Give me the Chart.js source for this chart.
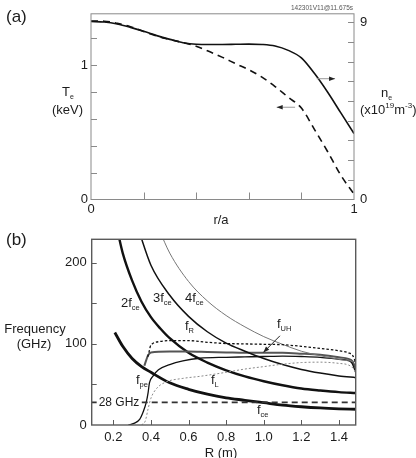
<!DOCTYPE html>
<html>
<head>
<meta charset="utf-8">
<script src="https://cdn.jsdelivr.net/npm/chart.js@4.4.1/dist/chart.umd.min.js"></script>
<style>
html, body { margin: 0; padding: 0; background: #fff; }
#wrap { position: relative; width: 416px; height: 458px; }
canvas { position: absolute; left: 0; top: 0; }
</style>
</head>
<body>
<div id="wrap">
  <canvas id="chartA" width="416" height="458"></canvas>
  <canvas id="chartB" width="416" height="458"></canvas>
</div>
<script>
// ---- panel (a): profiles vs r/a ----
const rA  = [0, 0.05, 0.1, 0.15, 0.2, 0.25, 0.3, 0.35, 0.4, 0.45, 0.5, 0.55, 0.6, 0.65, 0.7, 0.75, 0.8, 0.85, 0.9, 0.95, 1.0];
const teA = [1.328, 1.326, 1.31, 1.285, 1.25, 1.215, 1.19, 1.167, 1.14, 1.1, 1.057, 1.01, 0.965, 0.91, 0.84, 0.76, 0.68, 0.52, 0.355, 0.18, 0.04];
const neA = [9.05, 9.02, 8.92, 8.75, 8.55, 8.33, 8.14, 7.97, 7.89, 7.88, 7.88, 7.89, 7.9, 7.88, 7.8, 7.58, 7.2, 6.4, 5.45, 4.4, 3.35];

// ---- panel (b): characteristic frequencies vs R ----
const fceR  = [0.208, 0.25, 0.3, 0.35, 0.4, 0.5, 0.6, 0.7, 0.8, 0.9, 1.0, 1.1, 1.2, 1.3, 1.4, 1.49];
const fceF  = [114, 97, 82, 72, 65, 52, 44, 38, 33.5, 30.5, 27.5, 24.5, 22.5, 21, 20, 19.4];
const f2R   = [0.222, 0.25, 0.3, 0.35, 0.4, 0.45, 0.5, 0.6, 0.7, 0.8, 0.9, 1.0, 1.1, 1.2, 1.3, 1.4, 1.49];
const f2F   = [240, 212, 178, 152, 133, 119, 107, 89, 77, 67.5, 60, 54, 49, 45, 42.5, 40.5, 39.5];
const f3R   = [0.335, 0.4, 0.5, 0.6, 0.7, 0.8, 0.9, 1.0, 1.1, 1.2, 1.3, 1.4, 1.49];
const f3F   = [240, 197, 160, 134, 115, 101, 91, 82, 74.5, 68.5, 64, 60.5, 58.4];
const f4R   = [0.445, 0.5, 0.6, 0.7, 0.8, 0.9, 1.0, 1.1, 1.2, 1.3, 1.4, 1.49];
const f4F   = [240, 212, 177, 153, 135, 121, 109, 99.5, 91, 85.5, 81, 78];
const fRR   = [0.383, 0.39, 0.397, 0.41, 0.45, 0.5, 0.6, 0.7, 0.8, 0.9, 1.0, 1.1, 1.2, 1.3, 1.4, 1.45, 1.475, 1.49];
const fRF   = [84, 90, 97, 100.5, 103, 104, 104, 102, 100.5, 100, 99.5, 99, 97, 94.5, 91.5, 89, 85, 76];
const fuhR  = [0.365, 0.375, 0.385, 0.4, 0.5, 0.6, 0.7, 0.8, 0.9, 1.0, 1.1, 1.2, 1.3, 1.4, 1.45, 1.47, 1.49];
const fuhF  = [73, 80, 86, 89.5, 90.5, 90.5, 90, 89.5, 89, 89, 89, 88, 86.5, 83.5, 81.5, 79, 70];
const fpeR  = [0.28, 0.31, 0.34, 0.36, 0.375, 0.385, 0.392, 0.41, 0.44, 0.5, 0.57, 0.66, 0.8, 0.9, 1.0, 1.1, 1.2, 1.3, 1.4, 1.45, 1.47, 1.49];
const fpeF  = [0, 2, 7, 17, 28, 40, 52, 60, 68, 74.5, 79, 82.3, 83.5, 84, 84.5, 85, 84.5, 83.5, 81, 79.5, 76, 64];
const fLR   = [0.35, 0.37, 0.385, 0.4, 0.43, 0.48, 0.57, 0.66, 0.8, 0.9, 1.0, 1.1, 1.2, 1.3, 1.4, 1.45, 1.475, 1.49];
const fLF   = [0, 5, 20, 33, 45, 53, 57.5, 60, 65, 69, 72, 75, 77, 77.5, 76, 74, 70, 64];
const ecrhR = [0.085, 1.489];
const ecrhF = [28, 28];

const FONT = '"Liberation Sans", Arial, Helvetica, sans-serif';
const INK = '#1c1c1c';
Chart.defaults.font.family = FONT;
Chart.defaults.color = INK;

function pts(xs, ys) { return xs.map((x, i) => ({ x: x, y: ys[i] })); }
function fixSize(px) {
  return function (scale) {
    if (scale.isHorizontal()) scale.height = px; else scale.width = px;
  };
}
function near(v, t) { return Math.abs(v - t) < 1e-6; }

// text made of runs (sub/superscripts)
function runs(ctx, x, y, parts, align) {
  ctx.textBaseline = 'middle';
  ctx.textAlign = 'left';
  let w = 0;
  parts.forEach(p => { ctx.font = p.s + 'px ' + FONT; w += ctx.measureText(p.t).width; });
  if (align === 'center') x -= w / 2;
  if (align === 'right') x -= w;
  parts.forEach(p => {
    ctx.font = p.s + 'px ' + FONT;
    ctx.fillText(p.t, x, y + (p.dy || 0));
    x += ctx.measureText(p.t).width;
  });
}
function arrow(ctx, x1, y1, x2, y2, lineCol, headCol) {
  ctx.save();
  ctx.strokeStyle = lineCol;
  ctx.lineWidth = 1;
  ctx.beginPath(); ctx.moveTo(x1, y1); ctx.lineTo(x2, y2); ctx.stroke();
  const a = Math.atan2(y2 - y1, x2 - x1), L = 6, W = 2.3;
  ctx.fillStyle = headCol;
  ctx.beginPath();
  ctx.moveTo(x2, y2);
  ctx.lineTo(x2 - L * Math.cos(a) + W * Math.sin(a), y2 - L * Math.sin(a) - W * Math.cos(a));
  ctx.lineTo(x2 - L * Math.cos(a) - W * Math.sin(a), y2 - L * Math.sin(a) + W * Math.cos(a));
  ctx.closePath(); ctx.fill();
  ctx.restore();
}
// inward tick marks, drawn from the library's scales
function inTicks(chart, scaleId, values, side, len, col) {
  const ctx = chart.ctx, a = chart.chartArea, sc = chart.scales[scaleId];
  ctx.save();
  ctx.strokeStyle = col; ctx.lineWidth = 1;
  ctx.beginPath();
  values.forEach(v => {
    const p = Math.round(sc.getPixelForValue(v)) + 0.5;
    if (side === 'bottom') { ctx.moveTo(p, a.bottom); ctx.lineTo(p, a.bottom - len); }
    if (side === 'left')   { ctx.moveTo(a.left, p); ctx.lineTo(a.left + len, p); }
    if (side === 'right')  { ctx.moveTo(a.right, p); ctx.lineTo(a.right - len, p); }
  });
  ctx.stroke();
  ctx.restore();
}
function frame(chart, col, w) {
  const ctx = chart.ctx, a = chart.chartArea;
  ctx.save();
  ctx.strokeStyle = col; ctx.lineWidth = w;
  ctx.strokeRect(a.left, a.top, a.right - a.left, a.bottom - a.top);
  ctx.restore();
}

const noGrid = { display: false, drawTicks: false };

// ---------------- chart (a) ----------------
const decoA = {
  id: 'decoA',
  afterDraw(chart) {
    const ctx = chart.ctx;
    frame(chart, '#8a8a8a', 1);
    inTicks(chart, 'x', [0.2, 0.4, 0.6, 0.8], 'bottom', 7, '#8a8a8a');
    inTicks(chart, 'yt', [0.2, 0.4, 0.6, 0.8, 1.0, 1.2], 'left', 6, '#8a8a8a');
    inTicks(chart, 'yn', [1, 2, 3, 4, 5, 6, 7, 8, 9], 'right', 6, '#8a8a8a');
    ctx.fillStyle = INK;
    runs(ctx, 6, 17, [{ t: '(a)', s: 17 }]);
    runs(ctx, 62, 92, [{ t: 'T', s: 13 }, { t: 'e', s: 7, dy: 5 }]);
    runs(ctx, 67.5, 110, [{ t: '(keV)', s: 13 }], 'center');
    runs(ctx, 381, 93, [{ t: 'n', s: 13 }, { t: 'e', s: 7, dy: 5 }]);
    runs(ctx, 360, 110, [{ t: '(x10', s: 13 }, { t: '19', s: 8, dy: -4 }, { t: 'm', s: 13 }, { t: '-3', s: 8, dy: -4 }, { t: ')', s: 13 }]);
    runs(ctx, 221, 220, [{ t: 'r/a', s: 13 }], 'center');
    ctx.fillStyle = '#555';
    runs(ctx, 353, 8, [{ t: '142301V11@11.675s', s: 6.5 }], 'right');
    const x = chart.scales.x, yn = chart.scales.yn;
    arrow(ctx, x.getPixelForValue(0.858), yn.getPixelForValue(6.14), x.getPixelForValue(0.928), yn.getPixelForValue(6.14), '#999', '#222');
    arrow(ctx, x.getPixelForValue(0.776), yn.getPixelForValue(4.69), x.getPixelForValue(0.706), yn.getPixelForValue(4.69), '#999', '#222');
  }
};

new Chart(document.getElementById('chartA'), {
  type: 'line',
  data: {
    datasets: [
      { label: 'ne', data: pts(rA, neA), yAxisID: 'yn', borderColor: '#111', borderWidth: 1.6, pointRadius: 0, cubicInterpolationMode: 'monotone' },
      { label: 'Te', data: pts(rA, teA), yAxisID: 'yt', borderColor: '#111', borderWidth: 1.6, borderDash: [7, 5], pointRadius: 0, cubicInterpolationMode: 'monotone' }
    ]
  },
  options: {
    responsive: false, animation: false, devicePixelRatio: 1,
    layout: { padding: { top: 13, left: 0, right: 0, bottom: 0 } },
    plugins: { legend: { display: false }, tooltip: { enabled: false } },
    scales: {
      x: {
        type: 'linear', min: 0, max: 1, afterFit: fixSize(458 - 199.5),
        grid: noGrid, border: { display: false },
        ticks: { stepSize: 0.2, includeBounds: false, autoSkip: false, maxRotation: 0, padding: 2, font: { size: 13 },
                 callback: v => (near(v, 0) ? '0' : near(v, 1) ? '1' : '') }
      },
      yt: {
        position: 'left', min: 0, max: 1.381, afterFit: fixSize(91),
        grid: noGrid, border: { display: false },
        ticks: { stepSize: 0.2, includeBounds: false, autoSkip: false, padding: 3, font: { size: 13 },
                 callback: v => (near(v, 0) ? '0' : near(v, 1) ? '1' : '') }
      },
      yn: {
        position: 'right', min: 0, max: 9.44, afterFit: fixSize(62),
        grid: noGrid, border: { display: false },
        ticks: { stepSize: 1, includeBounds: false, autoSkip: false, padding: 6, font: { size: 13 },
                 callback: v => (near(v, 0) ? '0' : near(v, 9) ? '9' : '') }
      }
    }
  },
  plugins: [decoA]
});

// ---------------- chart (b) ----------------
const decoB = {
  id: 'decoB',
  afterDraw(chart) {
    const ctx = chart.ctx;
    frame(chart, '#5a5a5a', 1.4);
    inTicks(chart, 'x', [0.2, 0.4, 0.6, 0.8, 1.0, 1.2, 1.4], 'bottom', 5, '#5a5a5a');
    inTicks(chart, 'y', [50, 100, 150, 200], 'left', 5, '#5a5a5a');
    ctx.fillStyle = INK;
    runs(ctx, 6, 240, [{ t: '(b)', s: 17 }]);
    runs(ctx, 35, 329, [{ t: 'Frequency', s: 13 }], 'center');
    runs(ctx, 34, 344, [{ t: '(GHz)', s: 13 }], 'center');
    runs(ctx, 221, 453, [{ t: 'R (m)', s: 13 }], 'center');
    runs(ctx, 121, 303, [{ t: '2f', s: 13 }, { t: 'ce', s: 7.5, dy: 5 }]);
    runs(ctx, 153, 298, [{ t: '3f', s: 13 }, { t: 'ce', s: 7.5, dy: 5 }]);
    runs(ctx, 185, 298, [{ t: '4f', s: 13 }, { t: 'ce', s: 7.5, dy: 5 }]);
    runs(ctx, 185, 326, [{ t: 'f', s: 13 }, { t: 'R', s: 7.5, dy: 5 }]);
    runs(ctx, 277, 324, [{ t: 'f', s: 13 }, { t: 'UH', s: 7.5, dy: 5 }]);
    runs(ctx, 211, 380, [{ t: 'f', s: 13 }, { t: 'L', s: 7.5, dy: 5 }]);
    runs(ctx, 257, 410, [{ t: 'f', s: 13 }, { t: 'ce', s: 7.5, dy: 5 }]);
    runs(ctx, 136, 380, [{ t: 'f', s: 13 }, { t: 'pe', s: 7.5, dy: 5 }]);
    // 28 GHz label sitting on the dashed line
    const yl = chart.scales.y.getPixelForValue(28);
    ctx.font = '12px ' + FONT;
    const w = ctx.measureText('28 GHz').width;
    ctx.fillStyle = '#fff';
    ctx.fillRect(119 - w / 2 - 2, yl - 6, w + 4, 12);
    ctx.fillStyle = INK;
    runs(ctx, 119, yl, [{ t: '28 GHz', s: 12 }], 'center');
    const x = chart.scales.x, y = chart.scales.y;
    arrow(ctx, x.getPixelForValue(1.086), y.getPixelForValue(110), x.getPixelForValue(0.998), y.getPixelForValue(89.5), '#222', '#222');
  }
};

function ln(data, col, w, dash) {
  return { data: data, borderColor: col, borderWidth: w, borderDash: dash || [], pointRadius: 0, cubicInterpolationMode: 'monotone' };
}

new Chart(document.getElementById('chartB'), {
  type: 'line',
  data: {
    datasets: [
      ln(pts(ecrhR, ecrhF), '#333', 1.8, [6, 4]),
      ln(pts(fLR, fLF), '#8a8a8a', 1, [2, 2]),
      ln(pts(fRR, fRF), '#111', 1.3, [2.5, 2]),
      ln(pts(f4R, f4F), '#777', 1, null),
      ln(pts(f3R, f3F), '#111', 1.5, null),
      ln(pts(fpeR, fpeF), '#111', 1.3, null),
      ln(pts(fuhR, fuhF), '#555', 2, null),
      ln(pts(f2R, f2F), '#111', 2.4, null),
      ln(pts(fceR, fceF), '#111', 2.8, null)
    ]
  },
  options: {
    responsive: false, animation: false, devicePixelRatio: 1,
    layout: { padding: { top: 239.3, left: 0, right: 60.3, bottom: 0 } },
    plugins: { legend: { display: false }, tooltip: { enabled: false } },
    scales: {
      x: {
        type: 'linear', min: 0.085, max: 1.489, afterFit: fixSize(33),
        grid: noGrid, border: { display: false },
        ticks: { stepSize: 0.2, includeBounds: false, autoSkip: false, maxRotation: 0, padding: 5, font: { size: 13 },
                 callback: v => { const k = Math.round(v / 0.2); return (near(v, k * 0.2) && k >= 1 && k <= 7) ? (k * 0.2).toFixed(1) : ''; } }
      },
      y: {
        position: 'left', min: 0, max: 229, afterFit: fixSize(91.7),
        grid: noGrid, border: { display: false },
        ticks: { stepSize: 50, includeBounds: false, autoSkip: false, padding: 5, font: { size: 13 },
                 callback: v => (near(v, 0) || near(v, 100) || near(v, 200) ? String(v) : '') }
      }
    }
  },
  plugins: [decoB]
});
</script>
</body>
</html>
